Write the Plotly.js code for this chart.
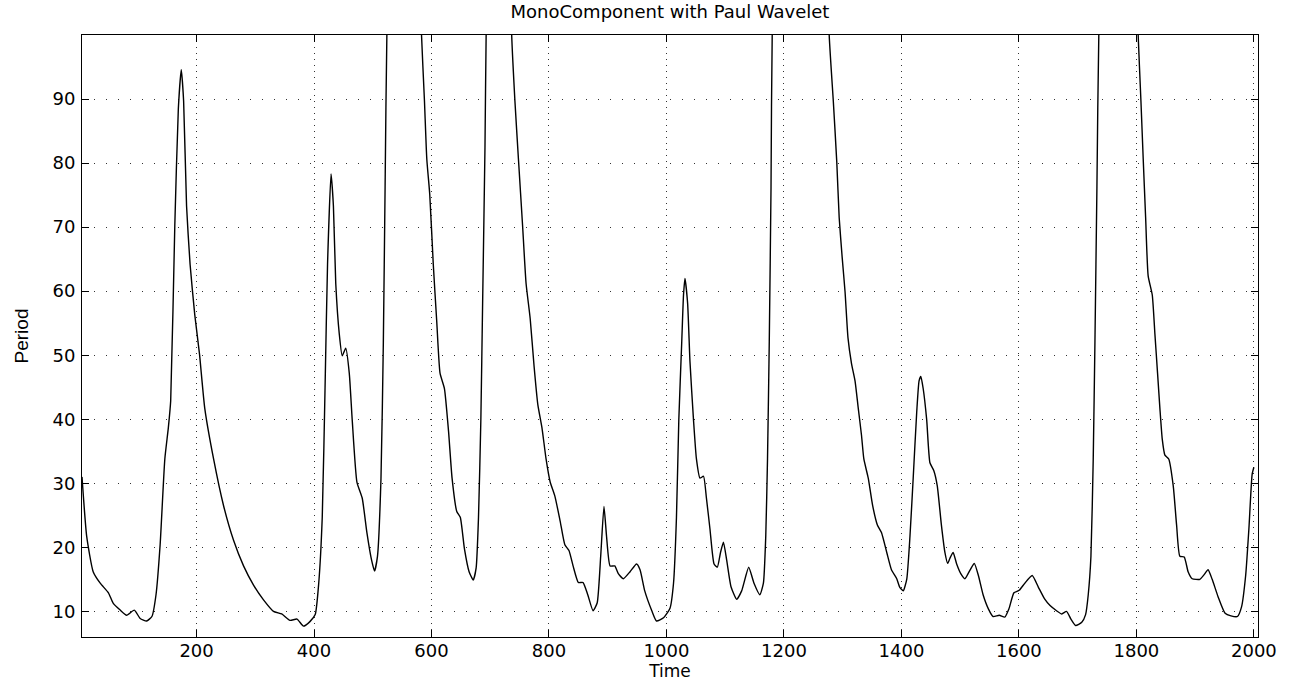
<!DOCTYPE html>
<html>
<head>
<meta charset="utf-8">
<script src="https://cdn.plot.ly/plotly-3.0.1.min.js"></script>
<style>html,body{margin:0;padding:0;background:#fff;}#chart{width:1296px;height:683px;}</style>
</head>
<body>
<div id="chart"></div>
<script>
const time = [
  5, 13, 24, 36, 50, 58, 70, 81, 94, 104, 115, 124, 131, 138, 146, 152, 156, 163, 169, 174,
  178, 183, 189, 197, 205, 214, 229, 246, 263, 280, 297, 314, 331, 345, 359, 371, 382, 393, 402, 408,
  414, 419, 423, 429, 433, 437, 443, 448, 454, 460, 465, 473, 482, 490, 498, 503, 508, 514, 518, 521,
  524, 552, 583, 588, 592, 597, 603, 609, 614.5, 622, 629, 635, 643, 649, 656, 664, 671, 676, 680, 684,
  687, 691, 693, 715, 736.5, 742, 748, 755, 761, 768, 774.5, 781, 788, 795, 802, 810, 819, 827, 834, 841,
  850, 858, 866, 875, 882, 888, 893.6, 898, 904, 912, 918, 926.5, 938, 949, 955, 963, 975, 983, 995, 1006,
  1012, 1017, 1021, 1026, 1029, 1031.5, 1036, 1040, 1046, 1051, 1057, 1063, 1068, 1074, 1081, 1086.5, 1092, 1097, 1102.5, 1110,
  1119.5, 1128, 1140, 1149, 1159, 1165, 1169, 1172, 1175, 1178, 1180, 1230, 1277, 1284, 1290, 1294, 1299, 1304, 1309, 1315,
  1321, 1326.5, 1332, 1336, 1343.5, 1351, 1359, 1366, 1375, 1383, 1392, 1397, 1403, 1409, 1414.5, 1420, 1426, 1430, 1433, 1437,
  1443, 1448.5, 1455, 1461, 1468, 1474, 1478.6, 1482.6, 1488, 1494, 1501, 1508, 1517, 1524, 1531, 1539, 1548, 1556, 1566.5, 1576,
  1583, 1591.5, 1600.5, 1610, 1622.6, 1633, 1644, 1653, 1664, 1673, 1681, 1688.5, 1696.5, 1707, 1713.5, 1718, 1722.6, 1726.5, 1729.4, 1732.8,
  1736, 1770, 1803, 1807.7, 1811.6, 1815.7, 1820, 1827, 1831.5, 1836, 1840, 1844, 1848.5, 1855, 1862.7, 1868.4, 1874, 1881.4, 1888, 1895,
  1908, 1915, 1922, 1929, 1939, 1951, 1961, 1972, 1979, 1986, 1991.5, 1997, 2000
];
const period = [
  31, 21.7, 16.2, 14.4, 12.9, 11.3, 10.2, 9.4, 10.2, 8.9, 8.5, 9.2, 12.6, 20.4, 33.8, 38.7, 42.9, 70.3, 88.5, 94.6,
  89.7, 73.3, 64.2, 56.3, 50.2, 41.7, 33.8, 26.5, 21.1, 17.1, 14.1, 11.8, 10.0, 9.6, 8.6, 8.8, 7.7, 8.4, 9.5, 14.4,
  24.7, 46, 64.2, 78.3, 73.3, 61.2, 53.3, 49.9, 51.1, 47.2, 39.9, 30.2, 27.7, 22.3, 18.0, 16.3, 18.6, 30.8, 52, 76.3,
  100, 200, 100, 89.7, 80.6, 75.1, 64.2, 55.1, 47.2, 44.8, 38.1, 30.8, 25.6, 24.7, 19.8, 16.2, 14.9, 16.8, 24.7, 39.9,
  58.1, 82.4, 100, 200, 100, 89.7, 80.6, 70.3, 61.2, 55.7, 48.4, 42.3, 38.7, 33.8, 30.2, 28, 24.1, 20.4, 19.5, 17.1,
  14.5, 14.5, 12.6, 10.1, 11.3, 18.6, 26.4, 21.7, 17.1, 17.1, 15.9, 15.1, 16.2, 17.4, 16.5, 13.2, 10.1, 8.5, 9.0, 10.5,
  14.4, 24.7, 39.9, 52.1, 59.4, 62.0, 58.1, 49, 39.9, 33.8, 30.8, 31.1, 27.7, 22.9, 17.4, 16.9, 19.2, 20.8, 18, 13.8,
  11.9, 13.2, 16.9, 14.4, 12.6, 14.4, 21.7, 33.8, 52.1, 76.3, 100, 250, 100, 89.7, 80, 71.5, 65.4, 59.9, 52.7, 48.7,
  46, 41.7, 37.5, 33.8, 30.8, 26.5, 23.5, 22.3, 19.2, 16.5, 15.1, 13.8, 13.2, 15, 21.7, 30.8, 41.1, 46, 46.7, 44.8,
  39.9, 33.2, 32, 29.6, 23.5, 19.2, 17.5, 18.3, 19.2, 17.4, 15.9, 15.1, 16.5, 17.5, 15.6, 12.6, 10.4, 9.2, 9.4, 9.1,
  10.4, 12.9, 13.3, 14.4, 15.6, 13.8, 11.9, 10.9, 10.1, 9.6, 10.0, 8.8, 7.8, 8.3, 9.5, 12.6, 18.6, 33.8, 52, 76.3,
  100, 200, 100, 89.7, 80.6, 71.5, 62.4, 59.4, 53.3, 47.2, 41.7, 36.9, 34.4, 33.8, 29.6, 23.5, 18.6, 18.5, 16.2, 15.1,
  15.0, 15.7, 16.5, 15, 12.3, 9.7, 9.3, 9.2, 10.7, 15.6, 22.9, 31.4, 32.5
];
const xTicks = [200, 400, 600, 800, 1000, 1200, 1400, 1600, 1800, 2000];
const yTicks = [10, 20, 30, 40, 50, 60, 70, 80, 90];

const tickFont = {family: 'DejaVu Sans, Arial, sans-serif', size: 18, color: '#000'};

const trace = {
  x: time, y: period, type: 'scatter', mode: 'lines',
  line: {color: '#000', width: 1.4, shape: 'spline', smoothing: 0.5},
  hoverinfo: 'x+y'
};

const axisCommon = {
  showline: true, linecolor: '#000', linewidth: 1, mirror: 'ticks',
  ticks: 'inside', ticklen: 7, tickcolor: '#000', tickwidth: 1,
  showgrid: true, gridcolor: '#333', gridwidth: 1,
  zeroline: false, tickfont: tickFont, fixedrange: true
};

const layout = {
  width: 1296, height: 683,
  margin: {l: 82, r: 38, t: 35, b: 46, pad: 0},
  paper_bgcolor: '#fff', plot_bgcolor: '#fff',
  showlegend: false,
  title: {text: 'MonoComponent with Paul Wavelet', font: {family: 'DejaVu Sans, Arial, sans-serif', size: 18, color: '#000'},
          x: 0.5, xref: 'paper', y: 1 - 12/683, yref: 'container', yanchor: 'middle'},
  xaxis: Object.assign({}, axisCommon, {
    range: [5, 2007], tickmode: 'array', tickvals: xTicks, ticktext: xTicks.map(String),
    griddash: '1px,5px', ticklabelstandoff: -3,
    title: {text: 'Time', font: {family: 'DejaVu Sans, Arial, sans-serif', size: 17, color: '#000'}, standoff: 1}
  }),
  yaxis: Object.assign({}, axisCommon, {
    range: [6, 100], tickmode: 'array', tickvals: yTicks, ticktext: yTicks.map(String),
    griddash: '1px,11px', ticklabelstandoff: 2,
    title: {text: 'Period', font: {family: 'Liberation Sans, Arial, sans-serif', size: 19, color: '#000'}, standoff: 18}
  })
};

Plotly.newPlot('chart', [trace], layout, {displayModeBar: false, staticPlot: true});
</script>
</body>
</html>
